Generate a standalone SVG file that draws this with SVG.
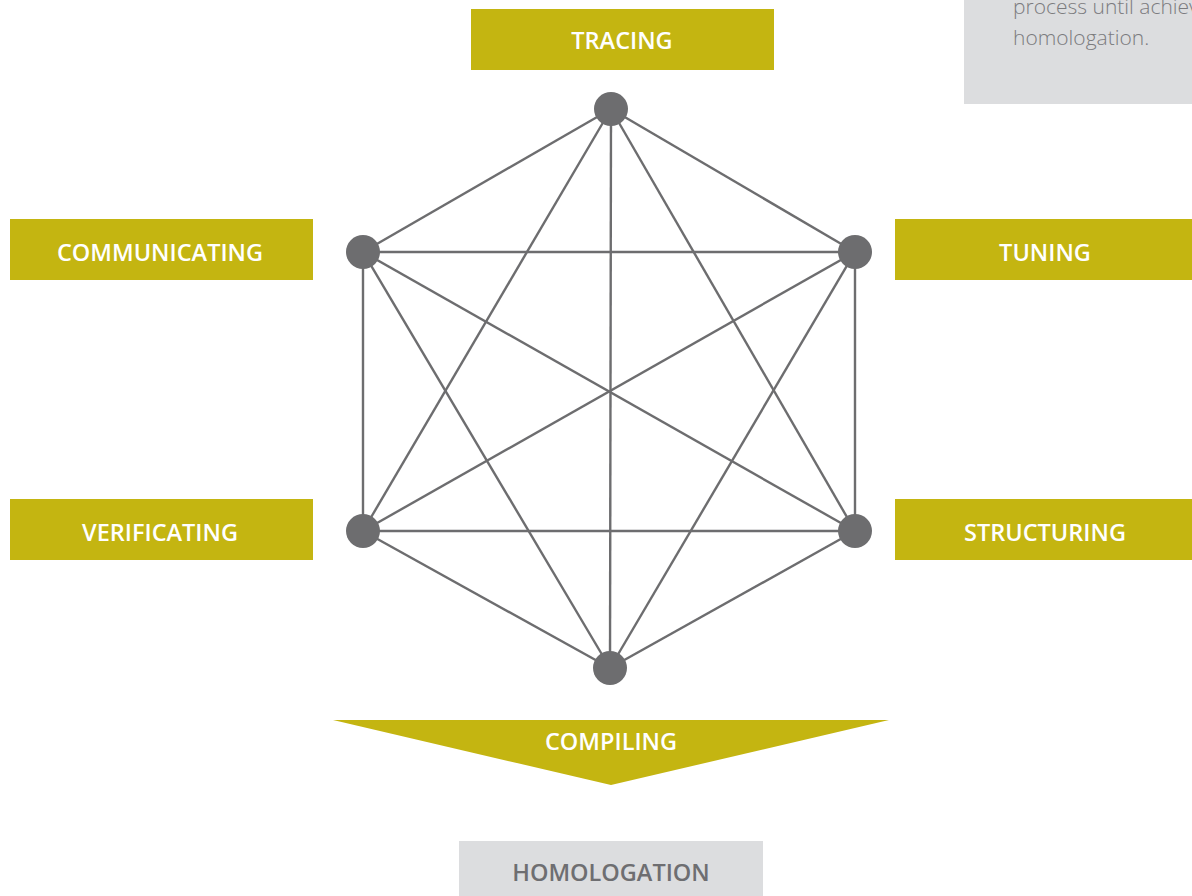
<svg xmlns="http://www.w3.org/2000/svg" width="1192" height="896" viewBox="0 0 1192 896">
  <style>
    .tag { fill: #c4b511; }
    .tag-text { font-family: "Open Sans", "Noto Sans", sans-serif; font-weight: 600; font-size: 23.5px; fill: #ffffff; text-anchor: middle; }
    .grey-box { fill: #dcdddf; }
    .grey-text { font-family: "Open Sans", "Noto Sans", sans-serif; font-weight: 600; font-size: 23.5px; fill: #6e6e71; text-anchor: middle; }
    .note-text { font-family: "Open Sans", "Noto Sans", sans-serif; font-weight: 300; font-size: 21px; fill: #7b7b7e; }
    .edge { stroke: #6d6d6f; stroke-width: 2.4; fill: none; }
    .dot { fill: #6d6d6f; }
  </style>

  <!-- note panel, top right -->
  <g id="note">
    <rect class="grey-box" x="964" y="0" width="228" height="104"/>
    <text class="note-text" x="1013" y="14">process until achiev</text>
    <text class="note-text" x="1013" y="45">homologation.</text>
  </g>

  <!-- connectors: every vertex linked to every other -->
  <g id="connectors">
    <line class="edge" x1="611" y1="109" x2="363" y2="252"/>
    <line class="edge" x1="611" y1="109" x2="855" y2="252"/>
    <line class="edge" x1="611" y1="109" x2="363" y2="531"/>
    <line class="edge" x1="611" y1="109" x2="855" y2="531"/>
    <line class="edge" x1="611" y1="109" x2="610" y2="668"/>
    <line class="edge" x1="363" y1="252" x2="855" y2="252"/>
    <line class="edge" x1="363" y1="252" x2="363" y2="531"/>
    <line class="edge" x1="363" y1="252" x2="855" y2="531"/>
    <line class="edge" x1="363" y1="252" x2="610" y2="668"/>
    <line class="edge" x1="855" y1="252" x2="363" y2="531"/>
    <line class="edge" x1="855" y1="252" x2="855" y2="531"/>
    <line class="edge" x1="855" y1="252" x2="610" y2="668"/>
    <line class="edge" x1="363" y1="531" x2="855" y2="531"/>
    <line class="edge" x1="363" y1="531" x2="610" y2="668"/>
    <line class="edge" x1="855" y1="531" x2="610" y2="668"/>
  </g>

  <!-- vertices -->
  <g id="v-top"><circle class="dot" cx="611" cy="109" r="17"/></g>
  <g id="v-upper-left"><circle class="dot" cx="363" cy="252" r="17"/></g>
  <g id="v-upper-right"><circle class="dot" cx="855" cy="252" r="17"/></g>
  <g id="v-lower-left"><circle class="dot" cx="363" cy="531" r="17"/></g>
  <g id="v-lower-right"><circle class="dot" cx="855" cy="531" r="17"/></g>
  <g id="v-bottom"><circle class="dot" cx="610" cy="668" r="17"/></g>

  <!-- stage labels -->
  <g id="tracing">
    <rect class="tag" x="471" y="9" width="303" height="61"/>
    <text class="tag-text" x="622" y="49">TRACING</text>
  </g>
  <g id="communicating">
    <rect class="tag" x="10" y="219" width="303" height="61"/>
    <text class="tag-text" x="160" y="261">COMMUNICATING</text>
  </g>
  <g id="tuning">
    <rect class="tag" x="895" y="219" width="297" height="61"/>
    <text class="tag-text" x="1045" y="261">TUNING</text>
  </g>
  <g id="verificating">
    <rect class="tag" x="10" y="499" width="303" height="61"/>
    <text class="tag-text" x="160" y="541">VERIFICATING</text>
  </g>
  <g id="structuring">
    <rect class="tag" x="895" y="499" width="297" height="61"/>
    <text class="tag-text" x="1045" y="541">STRUCTURING</text>
  </g>
  <g id="compiling">
    <polygon class="tag" points="333,720 889,720 611,785"/>
    <text class="tag-text" x="611" y="750">COMPILING</text>
  </g>
  <g id="homologation">
    <rect class="grey-box" x="459" y="841" width="304" height="55"/>
    <text class="grey-text" x="611" y="881">HOMOLOGATION</text>
  </g>
</svg>
